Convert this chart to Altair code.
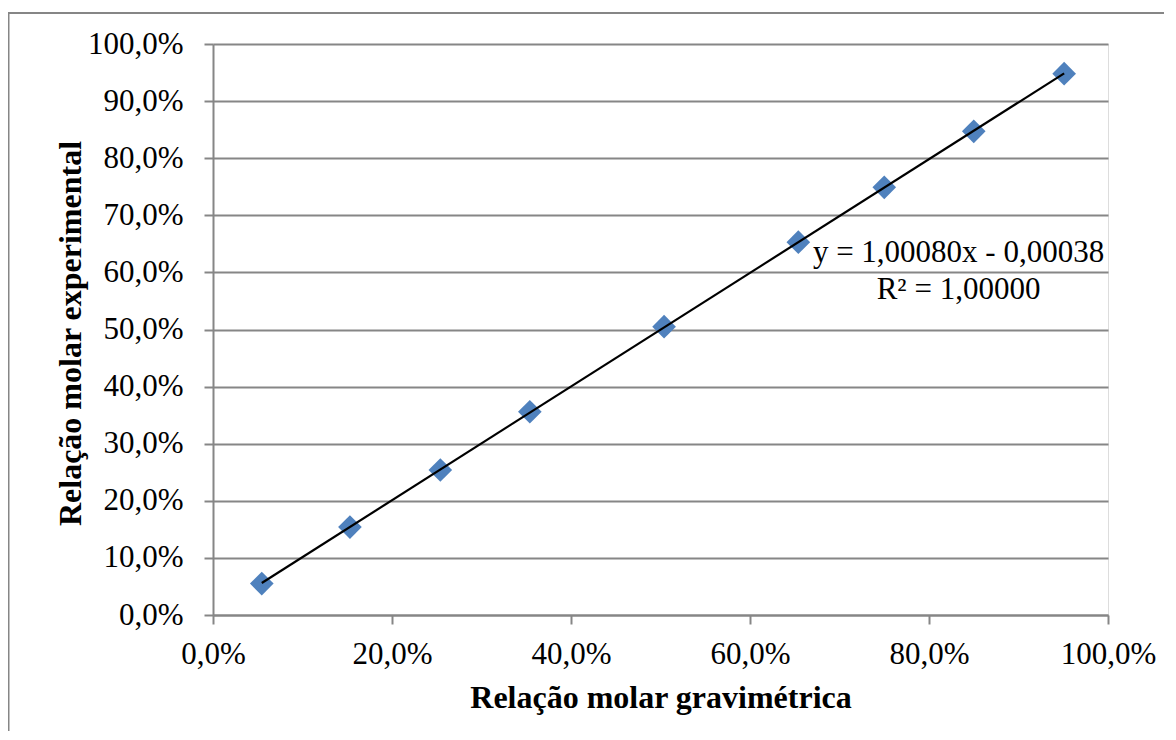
import altair as alt
import pandas as pd

# Data
x_grav = [0.0545, 0.153, 0.254, 0.354, 0.504, 0.654, 0.750, 0.850, 0.951]
y_exp = [0.055, 0.154, 0.254, 0.356, 0.505, 0.653, 0.749, 0.847, 0.948]

eq_lines = ["y = 1,00080x - 0,00038", "R² = 1,00000"]
eq_x = [0.833, 0.833]
eq_y = [0.618, 0.553]

df = pd.DataFrame({"x": x_grav, "y": y_exp})
df_eq = pd.DataFrame({"label": eq_lines, "x": eq_x, "y": eq_y})

FONT = "Liberation Serif"
GRID = "#868686"
W, H = 895, 571

xscale = alt.Scale(domain=[0, 1], nice=False, zero=False)
yscale = alt.Scale(domain=[0, 1], nice=False, zero=False)

x_axis = alt.Axis(
    title="Relação molar gravimétrica",
    values=[0, 0.2, 0.4, 0.6, 0.8, 1.0],
    labelExpr="replace(format(datum.value, '.1%'), '.', ',')",
    labelFlush=False, labelBound=False, labelOverlap=False,
    grid=False, domainColor=GRID, domainWidth=2, tickColor=GRID, tickWidth=2,
    tickSize=9, labelPadding=39, labelBaseline="alphabetic",
    labelFont=FONT, labelFontSize=31, labelColor="black",
    titleFont=FONT, titleFontSize=32, titleFontWeight="bold", titleColor="black",
    titleBaseline="alphabetic", titleY=92, titleX=W / 2,
)
y_axis = alt.Axis(
    title="Relação molar experimental",
    values=[i / 10 for i in range(11)],
    labelExpr="replace(format(datum.value, '.1%'), '.', ',')",
    labelFlush=False, labelBound=False, labelOverlap=False,
    grid=True, gridColor=GRID, gridWidth=2,
    domainColor=GRID, domainWidth=2, tickColor=GRID, tickWidth=2,
    tickSize=9, labelPadding=21,
    labelFont=FONT, labelFontSize=31, labelColor="black",
    titleFont=FONT, titleFontSize=32, titleFontWeight="bold", titleColor="black",
    titleBaseline="alphabetic", titleAngle=-90, titleX=-133, titleY=289,
)

border = alt.Chart(pd.DataFrame({"a": [0]})).mark_rect(
    fill=None, stroke=GRID, strokeWidth=2, clip=False
).encode(
    x=alt.value(-204.5), x2=alt.value(W + 200),
    y=alt.value(-31), y2=alt.value(H + 200),
)

points = alt.Chart(df).mark_point(
    shape="diamond", filled=True, size=560, color="#4F81BD", opacity=1
).encode(
    x=alt.X("x:Q", scale=xscale, axis=x_axis),
    y=alt.Y("y:Q", scale=yscale, axis=y_axis),
)

trend = alt.Chart(df).transform_regression("x", "y").mark_line(
    color="black", strokeWidth=2.2
).encode(x=alt.X("x:Q", scale=xscale), y=alt.Y("y:Q", scale=yscale))

eq = alt.Chart(df_eq).mark_text(
    font=FONT, fontSize=31, color="black", align="center", baseline="alphabetic"
).encode(
    x=alt.X("x:Q", scale=xscale), y=alt.Y("y:Q", scale=yscale), text="label:N"
)

chart = alt.layer(border, points, trend, eq).properties(
    width=W, height=H,
    autosize=alt.AutoSizeParams(type="none"),
    padding={"left": 205, "top": 36, "right": 56, "bottom": 116},
).configure_view(stroke=None).configure(background="white")

chart.save("out.html", embed_options={"renderer": "svg", "actions": False})
